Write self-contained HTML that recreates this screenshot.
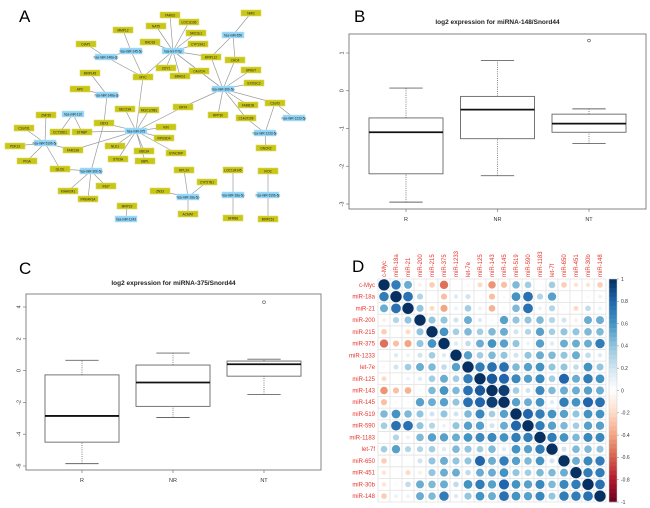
<!DOCTYPE html>
<html><head><meta charset="utf-8"><style>
html,body{margin:0;padding:0;background:#fff;}
svg{display:block;font-family:"Liberation Sans",sans-serif;}
</style></head><body>
<svg id="fig" width="650" height="508" viewBox="0 0 650 508" xmlns="http://www.w3.org/2000/svg">
<text x="19" y="22" font-size="17">A</text>
<text x="354" y="22" font-size="17">B</text>
<text x="19" y="274" font-size="17">C</text>
<text x="352" y="272" font-size="17">D</text>
<g id="net"></g>
<g id="boxB"></g>
<g id="boxC"></g>
<g id="corr"></g>
</svg>
<script>
const NS="http://www.w3.org/2000/svg";
function mk(tag,attrs,parent,txt){const e=document.createElementNS(NS,tag);for(const k in attrs)e.setAttribute(k,attrs[k]);if(txt!==undefined)e.textContent=txt;parent.appendChild(e);return e;}

// ---------- Panel A network ----------
const netNodes=[
["YAMS2",170,15,0],["LOC11106",189,22,0],["NAT5",156,26,0],["MMP12",123,30,0],["SMC3L1",196,33,0],
["RAD18",150,42,0],["CYP19A1",198,44,0],["DIAP1",86,44,0],["MRPL12",211,57,0],["CHC4",235,60,0],
["CDY1",166,68,0],["C4orf14",199,71,0],["BRAG1",180,76,0],["MYC",143,77,0],["SPAST",251,70,0],
["EXOSC2",254,83,0],["MRPL45",90,73,0],["APC",80,89,0],["KRT4",183,107,0],["FAM82B",248,105,0],
["RPP30",218,115,0],["C2orf3",275,103,0],["C14orf109",246,118,0],["SEC23A",125,109,0],["MGC12981",149,110,0],
["ZNF35",46,115,0],["C2orf31",24,128,0],["CCT28D1",60,132,0],["STRBP",82,132,0],["CBX3",104,123,0],
["KIN",166,127,0],["RPUSD4",164,138,0],["PDK13",15,146,0],["NLE1",115,146,0],["FAM13A",73,150,0],
["UBE3A",144,151,0],["SYNCRIP",176,153,0],["STX3A",118,159,0],["SBPL",145,161,0],["PIGA",27,161,0],
["GLCE",60,169,0],["DNCR2",266,148,0],["NMI2",251,13,0],["RPL24",184,170,0],["CYP27B1",207,182,0],
["ZN33",160,191,0],["ACMAT",188,214,0],["LOC134145",233,170,0],["SFRB6",233,218,0],["IVOC",268,171,0],
["MRPL51",268,219,0],["INLP",106,186,0],["KIAA0241",68,191,0],["PRKAR1A",88,199,0],["MRPL9",127,206,0],
["hsa-miR-145-5p",131,51,1],["hsa-miR-148a-3p",106,57,1],["hsa-let-7f-5p",173,51,1],["hsa-miR-650",233,35,1],
["hsa-miR-30b-5p",223,89,1],["hsa-miR-148a-3p ",107,95,1],["hsa-miR-1233-5p",294,118,1],["hsa-miR-1233-5p ",265,133,1],
["hsa-miR-110",73,114,1],["hsa-miR-375",136,131,1],["hsa-miR-519b-5p",45,143,1],["hsa-miR-30b-5p ",91,171,1],
["hsa-miR-18a-5p",188,197,1],["hsa-miR-18a-5p ",233,195,1],["hsa-miR-519b-5p ",268,195,1],["hsa-miR-1243",126,219,1]];
const netEdges=[
["MMP12","hsa-miR-145-5p"],["hsa-miR-145-5p","MYC"],["hsa-miR-148a-3p","MYC"],["DIAP1","hsa-miR-148a-3p"],["hsa-miR-145-5p","hsa-miR-148a-3p"],
["hsa-let-7f-5p","YAMS2"],["hsa-let-7f-5p","LOC11106"],["hsa-let-7f-5p","NAT5"],["hsa-let-7f-5p","SMC3L1"],["hsa-let-7f-5p","RAD18"],
["hsa-let-7f-5p","CYP19A1"],["hsa-let-7f-5p","CDY1"],["hsa-let-7f-5p","BRAG1"],["hsa-let-7f-5p","MRPL12"],["hsa-let-7f-5p","C4orf14"],
["hsa-let-7f-5p","MYC"],["hsa-let-7f-5p","hsa-miR-30b-5p"],
["hsa-miR-650","NMI2"],["hsa-miR-650","MRPL12"],["hsa-miR-650","CHC4"],
["hsa-miR-30b-5p","CHC4"],["hsa-miR-30b-5p","SPAST"],["hsa-miR-30b-5p","EXOSC2"],["hsa-miR-30b-5p","FAM82B"],["hsa-miR-30b-5p","RPP30"],
["hsa-miR-30b-5p","C14orf109"],["hsa-miR-30b-5p","C2orf3"],["hsa-miR-30b-5p","KRT4"],["hsa-miR-30b-5p","C4orf14"],["hsa-miR-30b-5p","MRPL12"],
["hsa-miR-148a-3p ","MRPL45"],["hsa-miR-148a-3p ","APC"],["hsa-miR-148a-3p ","CBX3"],["MYC","hsa-miR-375"],
["hsa-miR-375","SEC23A"],["hsa-miR-375","MGC12981"],["hsa-miR-375","KIN"],["hsa-miR-375","RPUSD4"],["hsa-miR-375","SYNCRIP"],
["hsa-miR-375","UBE3A"],["hsa-miR-375","SBPL"],["hsa-miR-375","STX3A"],["hsa-miR-375","NLE1"],["hsa-miR-375","FAM13A"],
["hsa-miR-375","CBX3"],["hsa-miR-375","KRT4"],["hsa-miR-375","STRBP"],
["hsa-miR-110","CCT28D1"],["hsa-miR-110","STRBP"],
["hsa-miR-519b-5p","ZNF35"],["hsa-miR-519b-5p","C2orf31"],["hsa-miR-519b-5p","PDK13"],["hsa-miR-519b-5p","PIGA"],["hsa-miR-519b-5p","GLCE"],["hsa-miR-519b-5p","FAM13A"],
["hsa-miR-30b-5p ","GLCE"],["hsa-miR-30b-5p ","INLP"],["hsa-miR-30b-5p ","KIAA0241"],["hsa-miR-30b-5p ","PRKAR1A"],["hsa-miR-30b-5p ","CBX3"],
["hsa-miR-1233-5p","C2orf3"],["hsa-miR-1233-5p ","C2orf3"],["hsa-miR-1233-5p ","C14orf109"],["hsa-miR-1233-5p ","DNCR2"],
["hsa-miR-18a-5p","RPL24"],["hsa-miR-18a-5p","CYP27B1"],["hsa-miR-18a-5p","ZN33"],["hsa-miR-18a-5p","ACMAT"],
["hsa-miR-18a-5p ","LOC134145"],["hsa-miR-18a-5p ","SFRB6"],["hsa-miR-519b-5p ","IVOC"],["hsa-miR-519b-5p ","MRPL51"],["hsa-miR-1243","MRPL9"]];
(function(){
  const g=document.getElementById('net');const pos={};
  netNodes.forEach(n=>pos[n[0]]=n);
  netEdges.forEach(e=>{const a=pos[e[0]],b=pos[e[1]];
    const l=mk('line',{x1:a[1],y1:a[2],x2:b[1],y2:b[2],stroke:'#9a9a9a','stroke-width':0.7},g);
    
    });
  netNodes.forEach(n=>{const w=n[3]?22:20,h=6;
    const r=mk('rect',{x:n[1]-w/2,y:n[2]-h/2,width:w,height:h,fill:n[3]?'#8fd3f5':'#c9c618',stroke:n[3]?'#b8e4f8':'#dcda60','stroke-width':0.6},g);
    
    
    const t=mk('text',{x:n[1],y:n[2]+1.3,'font-size':3.2,'text-anchor':'middle',fill:'#222'},g,n[0].trim());
    
    });
})();

// ---------- Boxplots ----------
const boxGroups=["R","NR","NT"];
// [whiskerLow, q1, median, q3, whiskerHigh]
const boxB=[[-2.95,-2.2,-1.1,-0.72,0.07],[-2.25,-1.27,-0.5,-0.15,0.8],[-1.4,-1.1,-0.87,-0.62,-0.48]];
const outB=[[],[],[1.33]];
const ticksB=[1,0,-1,-2,-3];
const boxC=[[-5.85,-4.5,-2.85,-0.27,0.65],[-2.95,-2.25,-0.75,0.35,1.1],[-1.5,-0.35,0.4,0.6,0.72]];
const outC=[[],[],[4.3]];
const ticksC=[4,2,0,-2,-4,-6];
function drawBox(id,title,stats,outs,ticks,cfg){
  const g=document.getElementById(id);
  const y=v=>cfg.y0+(v-cfg.v0)*(cfg.y1-cfg.y0)/(cfg.v1-cfg.v0);
  const x=i=>cfg.xs+i*cfg.dx;
  const tt=mk('text',{x:(cfg.L+cfg.R)/2,y:cfg.ty,'font-size':6.5,'font-weight':'bold','text-anchor':'middle',fill:'#222'},g,title);
  
  const fr=mk('rect',{x:cfg.L,y:cfg.T,width:cfg.R-cfg.L,height:cfg.B-cfg.T,fill:'none',stroke:'#777','stroke-width':0.9},g);
  
  ticks.forEach(v=>{const yy=y(v);
    mk('line',{x1:cfg.L-3,y1:yy,x2:cfg.L,y2:yy,stroke:'#777','stroke-width':0.7},g);
    const t=mk('text',{x:cfg.L-7,y:yy,'font-size':5.5,'text-anchor':'middle',fill:'#333',transform:`rotate(-90 ${cfg.L-7} ${yy})`,'dominant-baseline':'middle'},g,String(v));
    });
  stats.forEach((s,i)=>{const cx=x(i),hw=cfg.hw,cw=cfg.hw*0.45;
    mk('line',{x1:cx,y1:cfg.B,x2:cx,y2:cfg.B+3,stroke:'#777','stroke-width':0.7},g);
    const xl=mk('text',{x:cx,y:cfg.B+12,'font-size':5.5,'text-anchor':'middle',fill:'#333'},g,boxGroups[i]);
    
    [[s[0],s[1]],[s[3],s[4]]].forEach(p=>mk('line',{x1:cx,y1:y(p[0]),x2:cx,y2:y(p[1]),stroke:'#666','stroke-width':0.8,'stroke-dasharray':'1 1.2'},g));
    [s[0],s[4]].forEach(v=>mk('line',{x1:cx-cw,y1:y(v),x2:cx+cw,y2:y(v),stroke:'#666','stroke-width':0.9},g));
    const b=mk('rect',{x:cx-hw,y:y(s[3]),width:2*hw,height:y(s[1])-y(s[3]),fill:'#fff',stroke:'#666','stroke-width':0.9},g);
    
    const m=mk('line',{x1:cx-hw,y1:y(s[2]),x2:cx+hw,y2:y(s[2]),stroke:'#111','stroke-width':1.8},g);
    
    outs[i].forEach(v=>{const o=mk('circle',{cx:cx,cy:y(v),r:1.4,fill:'none',stroke:'#555','stroke-width':0.6},g);
      });
  });
}
drawBox('boxB','log2 expression for miRNA-148/Snord44',boxB,outB,ticksB,{L:349,R:646,T:34,B:209,y0:53,v0:1,y1:204,v1:-3,xs:406,dx:91.5,hw:37,ty:24});
drawBox('boxC','log2 expression for miRNA-375/Snord44',boxC,outC,ticksC,{L:26,R:321,T:294,B:470,y0:307,v0:4,y1:466,v1:-6,xs:82,dx:91,hw:37,ty:285});

// ---------- Panel D correlation ----------
const corrLabels=["c-Myc","miR-18a","miR-21","miR-200","miR-215","miR-375","miR-1233","let-7e","miR-125","miR-143","miR-145","miR-519","miR-590","miR-1183","let-7f","miR-650","miR-451","miR-30b","miR-148"];
const corrRows=[
[1,.7,.5,-.1,-.25,-.55,.02,-.05,-.2,-.45,-.3,.45,.35,.02,.35,-.25,-.15,-.15,-.25],
[.7,1,.75,.3,0,-.3,.15,.2,0,-.3,-.05,.6,.75,.3,.55,0,0,.05,.1],
[.5,.75,1,.4,-.2,-.4,.1,.35,.1,-.35,.05,.45,.75,.1,.3,.05,-.2,.25,.1],
[-.1,.3,.4,1,.4,.4,.2,.5,.15,.05,.55,.4,.4,.45,.3,.2,-.1,.5,.5],
[-.25,0,-.2,.4,1,.6,.35,.45,.35,.45,.5,.2,.3,.55,.35,.4,.4,.45,.45],
[-.55,-.3,-.4,.4,.6,1,.15,.25,.5,.6,.55,.4,.1,.55,.15,.5,.5,.5,.7],
[.02,.15,.1,.2,.35,.15,1,.55,.35,.45,.4,.2,.4,.5,.45,.4,.5,.25,.15],
[-.05,.2,.35,.5,.45,.25,.55,1,.7,.75,.75,.45,.55,.6,.4,.4,.25,.6,.4],
[-.2,0,.1,.15,.35,.5,.35,.7,1,.85,.8,.65,.55,.65,.35,.8,.5,.7,.6],
[-.45,-.3,-.35,.05,.45,.6,.45,.75,.85,1,.95,.35,.2,.65,.45,.5,.5,.55,.5],
[-.3,-.05,.05,.55,.5,.55,.4,.75,.8,.95,1,.55,.5,.6,.15,.7,.6,.8,.75],
[.45,.6,.45,.4,.2,.4,.2,.45,.65,.35,.55,1,.8,.7,.6,.55,.4,.6,.6],
[.35,.75,.75,.4,.3,.1,.4,.55,.55,.2,.5,.8,1,.7,.55,.45,.35,.55,.55],
[.02,.3,.1,.45,.55,.55,.5,.6,.65,.65,.6,.7,.7,1,.7,.6,.45,.65,.65],
[.35,.55,.3,.3,.35,.15,.45,.4,.35,.45,.15,.6,.55,.7,1,.2,.45,.45,.4],
[-.25,0,0,.2,.4,.5,.4,.4,.8,.5,.7,.55,.45,.6,.2,1,.5,.65,.7],
[-.15,0,-.2,-.1,.4,.5,.5,.25,.5,.5,.6,.4,.35,.45,.45,.5,1,.7,.7],
[-.15,.05,.25,.5,.45,.5,.25,.6,.7,.55,.8,.6,.55,.65,.45,.65,.7,1,.75],
[-.25,.1,.1,.5,.45,.7,.15,.4,.6,.5,.75,.6,.55,.65,.4,.7,.7,.75,1]];
const barTicks=["1","0.8","0.6","0.4","0.2","0","-0.2","-0.4","-0.6","-0.8","-1"];
const pal=["#67001F","#B2182B","#D6604D","#F4A582","#FDDBC7","#FFFFFF","#D1E5F0","#92C5DE","#4393C3","#2166AC","#053061"];
function col(v){const t=(v+1)/2*10;const i=Math.min(9,Math.floor(t)),f=t-i;
  const a=pal[i],b=pal[i+1];const h=(s,k)=>parseInt(s.substr(1+2*k,2),16);
  const c=[0,1,2].map(k=>Math.round(h(a,k)+(h(b,k)-h(a,k))*f));return `rgb(${c.join(',')})`;}
(function(){
  const g=document.getElementById('corr');const L=378,T=279,R=606,B=502;const n=corrLabels.length;
  const cw=(R-L)/n,ch=(B-T)/n;
  for(let i=0;i<=n;i++){
    mk('line',{x1:L+i*cw,y1:T,x2:L+i*cw,y2:B,stroke:'#e2e2e2','stroke-width':0.8},g);
    mk('line',{x1:L,y1:T+i*ch,x2:R,y2:T+i*ch,stroke:'#e2e2e2','stroke-width':0.8},g);}
  corrLabels.forEach((lab,i)=>{
    const t=mk('text',{x:L-3,y:T+(i+0.5)*ch+2,'font-size':6,'text-anchor':'end',fill:'#e8342c'},g,lab);
    
    const cx=L+(i+0.5)*cw+2,cy=T-2;
    const c=mk('text',{x:cx,y:cy,'font-size':6,'text-anchor':'start',fill:'#e8342c',transform:`rotate(-90 ${cx} ${cy})`},g,lab);
    });
  corrRows.forEach((row,i)=>row.forEach((v,j)=>{
    const r=Math.sqrt(Math.abs(v))*cw*0.47;
    if(r<0.3)return;
    const c=mk('circle',{cx:L+(j+0.5)*cw,cy:T+(i+0.5)*ch,r:r,fill:col(v)},g);
    }));
  // colorbar
  const bx=609,bw=8,steps=50;
  for(let k=0;k<steps;k++){const v=1-2*(k+0.5)/steps;
    mk('rect',{x:bx,y:T+k*(B-T)/steps,width:bw,height:(B-T)/steps+0.3,fill:col(v)},g);}
  mk('rect',{x:bx,y:T,width:bw,height:B-T,fill:'none',stroke:'#ccc','stroke-width':0.5},g);
  barTicks.forEach((lab,k)=>{const yy=T+k*(B-T)/10;
    mk('line',{x1:bx+bw,y1:yy,x2:bx+bw+2,y2:yy,stroke:'#888','stroke-width':0.5},g);
    const t=mk('text',{x:bx+bw+4,y:yy+1.8,'font-size':5,fill:'#333'},g,lab);
    });
})();
</script>
</body></html>
